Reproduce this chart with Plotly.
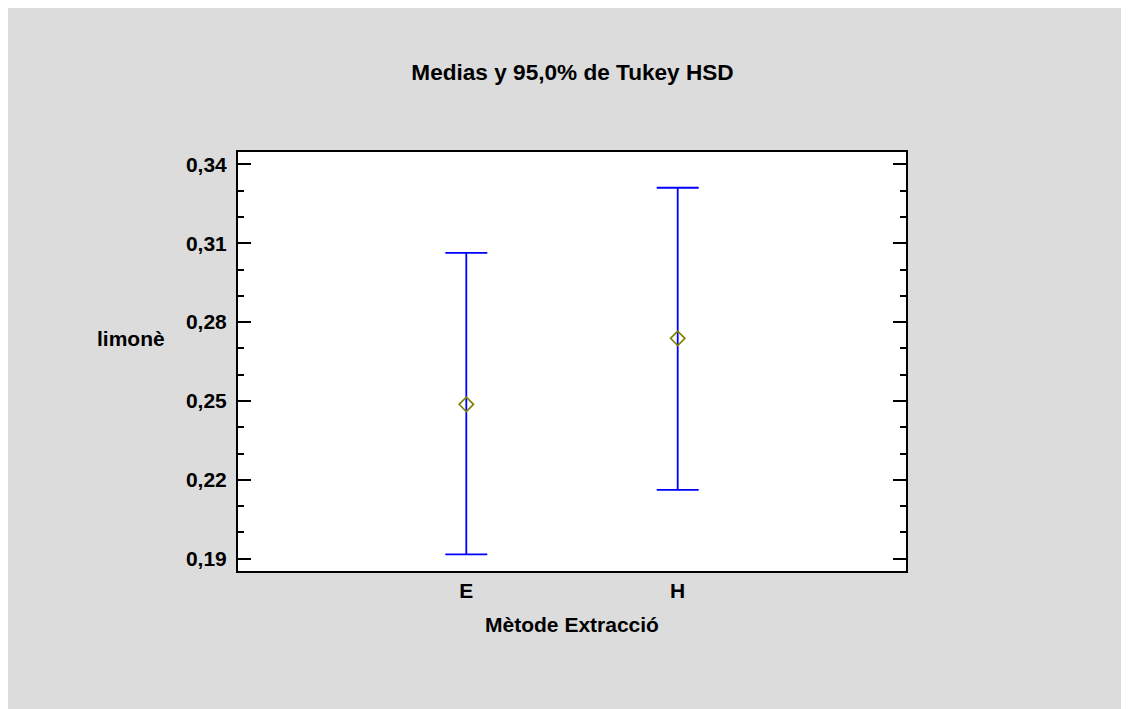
import plotly.graph_objects as go

categories = ["E", "H"]
means = [0.2487, 0.2738]
upper = [0.3063, 0.3311]
lower = [0.1916, 0.2162]
y_ticks = [0.19, 0.22, 0.25, 0.28, 0.31, 0.34]

xpos = list(range(len(categories)))
err_plus = [u - m for u, m in zip(upper, means)]
err_minus = [m - l for m, l in zip(means, lower)]

FONT = "Liberation Sans, Arial, sans-serif"
W, H = 1129, 709
L, R, T, B = 230, 231, 144, 146
PH = H - T - B
PW = W - L - R

fig = go.Figure()
fig.add_trace(go.Scatter(
    x=xpos, y=means, mode="markers",
    marker=dict(symbol="diamond-open", size=11, color="#808000", line=dict(width=1.6, color="#808000")),
    error_y=dict(type="data", symmetric=False, array=err_plus, arrayminus=err_minus,
                 color="#0000ff", thickness=1.8, width=21),
    showlegend=False,
))

fig.update_layout(
    width=W, height=H,
    paper_bgcolor="#dcdcdc", plot_bgcolor="white",
    margin=dict(l=L, r=R, t=T, b=B),
    separators=",.",
    font=dict(family=FONT, color="black", size=20),
    title=dict(text="<b>Medias y 95,0% de Tukey HSD</b>", x=0.5, xanchor="center",
               y=1 - 64 / H, yanchor="middle", font=dict(size=22.6, family=FONT)),
    xaxis=dict(
        range=[-1.08, 2.08], tickvals=xpos, ticktext=[f"<b>{c}</b>" for c in categories],
        showgrid=False, zeroline=False, showline=True, linecolor="black", linewidth=2,
        mirror=True, ticks="", tickfont=dict(size=21),
        title=dict(text="<b>Mètode Extracció</b>", font=dict(size=21), standoff=16),
    ),
    yaxis=dict(
        range=[0.1853, 0.3447], tickvals=y_ticks,
        ticktext=[f"<b>{v:.2f}</b>".replace(".", ",") for v in y_ticks],
        showgrid=False, zeroline=False, showline=True, linecolor="black", linewidth=2,
        mirror="ticks", ticks="inside", ticklen=13, tickwidth=2, tickcolor="black",
        tickfont=dict(size=21), ticklabelstandoff=5,
        minor=dict(ticks="inside", ticklen=6, tickwidth=2, tickcolor="black", dtick=0.01, tick0=0.19, showgrid=False),
    ),
    annotations=[dict(text="<b>limonè</b>", xref="paper", yref="paper", x=(131 - 238) / PW, y=(571 - 338) / PH,
                      xanchor="center", yanchor="middle", showarrow=False, font=dict(size=21, family=FONT))],
)

fig.write_html("out.html")
